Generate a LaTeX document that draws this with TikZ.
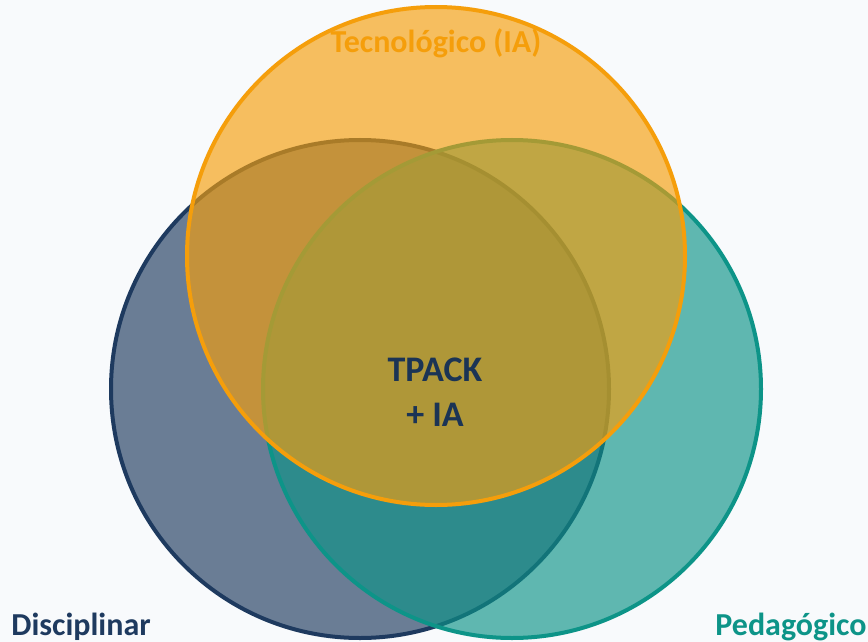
\documentclass[tikz,border=0pt]{standalone}
\usepackage{fontspec}
\setmainfont{Carlito}
\usepackage{xcolor}
\usepackage{tikz}
\usetikzlibrary{positioning}

\definecolor{navy}{HTML}{1E3A5F}
\definecolor{tealc}{HTML}{0D9488}
\definecolor{amber}{HTML}{F59E0B}
\definecolor{paper}{HTML}{F8FAFC}

\begin{document}
\begin{tikzpicture}[
  x=0.75pt, y=-0.75pt,
  every node/.style={font=\bfseries},
  knowset/.style={circle, minimum size=498*0.75pt, line width=3pt,
                 fill opacity=0.65, draw opacity=1, inner sep=0pt},
  caption/.style={font=\fontsize{24}{26}\selectfont\bfseries, anchor=base},
  core/.style={font=\fontsize{27}{34}\selectfont\bfseries,
               text=navy!90!black, align=center}
]

  % ── Canvas ────────────────────────────────────────────────────
  \fill[paper] (0,0) rectangle (868,642);
  \useasboundingbox (0,0) rectangle (868,642);

  % ── The three knowledge domains ───────────────────────────────
  \node[knowset, draw=navy,  fill=navy]  (disc) at (360,389) {};
  \node[knowset, draw=tealc, fill=tealc] (ped)  at (512,389) {};
  \node[knowset, draw=amber, fill=amber] (tec)  at (436,256) {};

  % ── Domain labels ─────────────────────────────────────────────
  \node[caption, text=amber] (tec_l)  at (436,53)  {Tecnológico (IA)};
  \node[caption, text=navy]  (disc_l) at (81,635)  {Disciplinar};
  \node[caption, text=tealc] (ped_l)  at (791,635) {Pedagógico};

  % ── Intersection ──────────────────────────────────────────────
  \node[core] (tpack) at (435,392) {TPACK\\+ IA};

\end{tikzpicture}
\end{document}
